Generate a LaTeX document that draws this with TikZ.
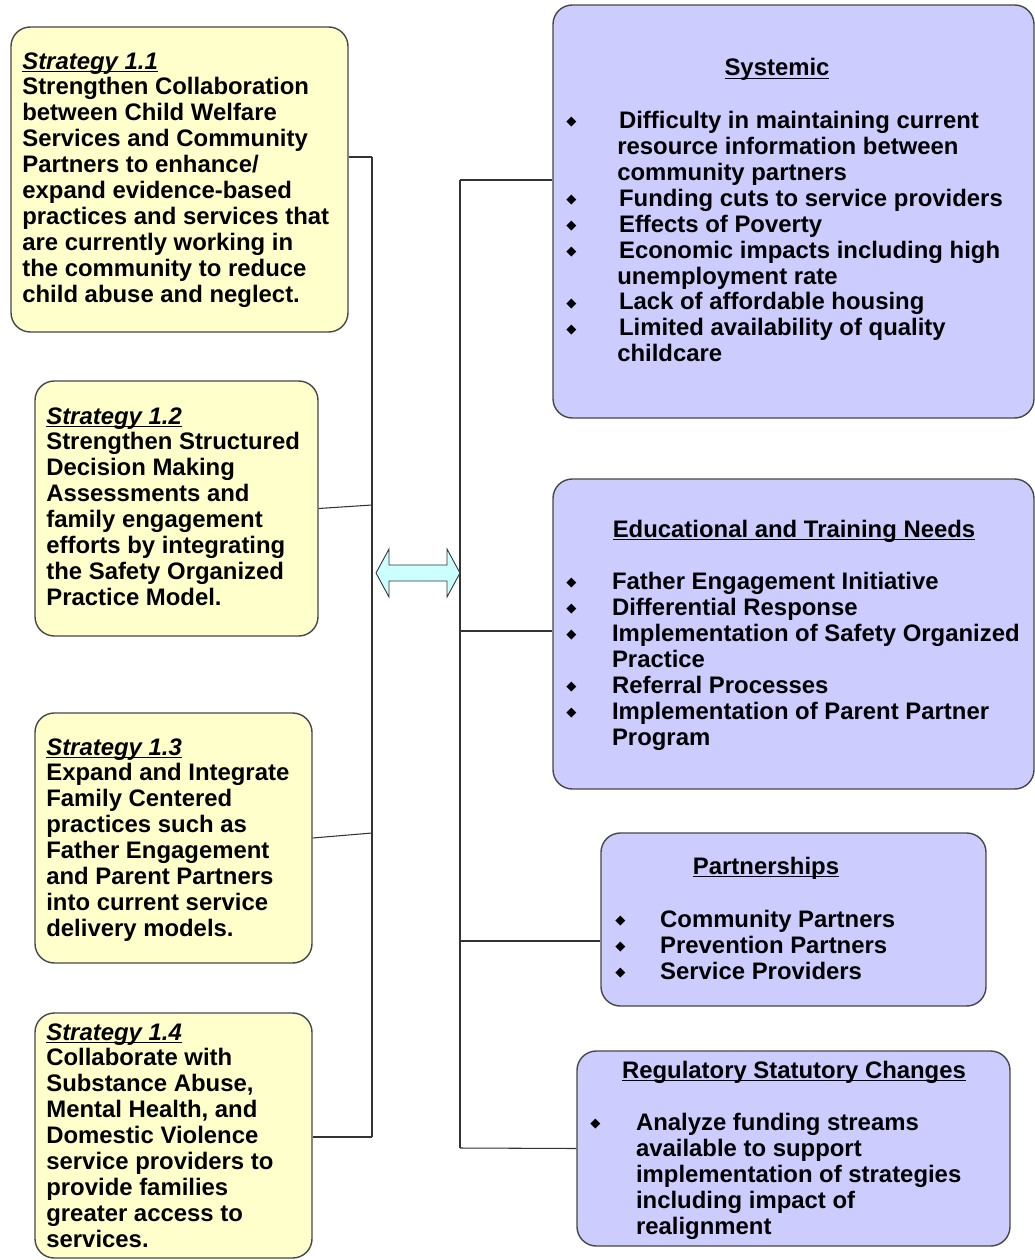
\documentclass[tikz,border=0pt]{standalone}
\usepackage{fontspec}
\setmainfont{Liberation Sans}
\newfontfamily\symfont{DejaVu Sans}
\usetikzlibrary{fit}
\definecolor{stratyellow}{HTML}{FFFFCC}
\definecolor{needpurple}{HTML}{CCCCFF}
\definecolor{arrowcyan}{HTML}{CCFFFF}
\newcommand\bul{\raisebox{1.6pt}{\symfont\fontsize{7.5}{7.5}\selectfont ◆}}
\newcommand\ul[1]{\setbox0\hbox{#1}\rlap{\rule[-1.9pt]{\wd0}{0.8pt}}\box0}
\newcommand\strat[1]{\ul{\textit{#1}}}
\newcommand\bl[2]{\makebox[#1][l]{\bul}#2}
\newcommand\cl[2]{\hspace*{#1}#2}
\tikzset{
 box/.style={draw=black!72, line width=0.8pt, rounded corners=11pt, inner sep=0pt},
 ybox/.style={box, fill=stratyellow},
 pbox/.style={box, fill=needpurple},
 txt/.style={anchor=north west, inner sep=0pt, align=left, font=\fontsize{13.6}{14.74}\selectfont\bfseries},
 head/.style={anchor=base, inner sep=0pt, font=\fontsize{13.6}{14.74}\selectfont\bfseries},
 bus/.style={draw=black!80, line width=0.6pt}
}
\begin{document}
\begin{tikzpicture}[x=0.02cm, y=-0.02cm]
\useasboundingbox (0,0) rectangle (1034,1260);

\node[ybox, fit={(11,27) (348,332)}] (s1) {};
\node[ybox, fit={(35,381) (318,636)}] (s2) {};
\node[ybox, fit={(35,713) (312,963)}] (s3) {};
\node[ybox, fit={(35,1013) (312,1258)}] (s4) {};

\node[pbox, fit={(553,5) (1034,418)}] (sys) {};
\node[pbox, fit={(553,479) (1034,789)}] (edu) {};
\node[pbox, fit={(601,833) (986,1006)}] (part) {};
\node[pbox, fit={(577,1051) (1010,1246)}] (reg) {};

\node[txt] (t1) at (22,52) {\strat{Strategy 1.1}\\Strengthen Collaboration\\between Child Welfare\\Services and Community\\Partners to enhance/\\expand evidence-based\\practices and services that\\are currently working in\\the community to reduce\\child abuse and neglect.};
\node[txt] (t2) at (46,407) {\strat{Strategy 1.2}\\Strengthen Structured\\Decision Making\\Assessments and\\family engagement\\efforts by integrating\\the Safety Organized\\Practice Model.};
\node[txt] (t3) at (46,738) {\strat{Strategy 1.3}\\Expand and Integrate\\Family Centered\\practices such as\\Father Engagement\\and Parent Partners\\into current service\\delivery models.};
\node[txt] (t4) at (46,1023) {\strat{Strategy 1.4}\\Collaborate with\\Substance Abuse,\\Mental Health, and\\Domestic Violence\\service providers to\\provide families\\greater access to\\services.};

\node[head] (h1) at (777,76) {\ul{Systemic}};
\node[txt] (b1) at (566,111) {\bl{30pt}{Difficulty in maintaining current}\\\cl{29pt}{resource information between}\\\cl{29pt}{community partners}\\\bl{30pt}{Funding cuts to service providers}\\\bl{30pt}{Effects of Poverty}\\\bl{30pt}{Economic impacts including high}\\\cl{29pt}{unemployment rate}\\\bl{30pt}{Lack of affordable housing}\\\bl{30pt}{Limited availability of quality}\\\cl{29pt}{childcare}};

\node[head] (h2) at (794,537) {\ul{Educational and Training Needs}};
\node[txt] (b2) at (566,572) {\bl{26pt}{Father Engagement Initiative}\\\bl{26pt}{Differential Response}\\\bl{26pt}{Implementation of Safety Organized}\\\cl{26pt}{Practice}\\\bl{26pt}{Referral Processes}\\\bl{26pt}{Implementation of Parent Partner}\\\cl{26pt}{Program}};

\node[head] (h3) at (766,874) {\ul{Partnerships}};
\node[txt] (b3) at (615,910) {\bl{25.5pt}{Community Partners}\\\bl{25.5pt}{Prevention Partners}\\\bl{25.5pt}{Service Providers}};

\node[head] (h4) at (794,1078) {\ul{Regulatory Statutory Changes}};
\node[txt] (b4) at (590,1113) {\bl{26pt}{Analyze funding streams}\\\cl{26pt}{available to support}\\\cl{26pt}{implementation of strategies}\\\cl{26pt}{including impact of}\\\cl{26pt}{realignment}};

\coordinate (l1) at (372,157); \coordinate (l2) at (372,505);
\coordinate (l3) at (372,833); \coordinate (l4) at (372,1137);
\coordinate (r1) at (460,180); \coordinate (r2) at (460,631);
\coordinate (r3) at (460,941); \coordinate (r4) at (460,1148);

\draw[bus] (l1) -- (l4);
\draw[bus] (r1) -- (r4);
\draw[bus] (s1.east |- l1) -- (l1);
\draw[bus] (s2.east) -- (l2);
\draw[bus] (s3.east) -- (l3);
\draw[bus] (s4.east |- l4) -- (l4);
\draw[bus] (r1) -- (sys.west |- r1);
\draw[bus] (r2) -- (edu.west |- r2);
\draw[bus] (r3) -- (part.west |- r3);
\draw[bus] (r4) -- (reg.west);

\filldraw[fill=arrowcyan, draw=black!80, line width=0.5pt, line join=miter] (376,573) -- (389,549) -- (389,565) -- (447,565) -- (447,549) -- (460,573) -- (447,597) -- (447,581) -- (389,581) -- (389,597) -- cycle;
\end{tikzpicture}
\end{document}
